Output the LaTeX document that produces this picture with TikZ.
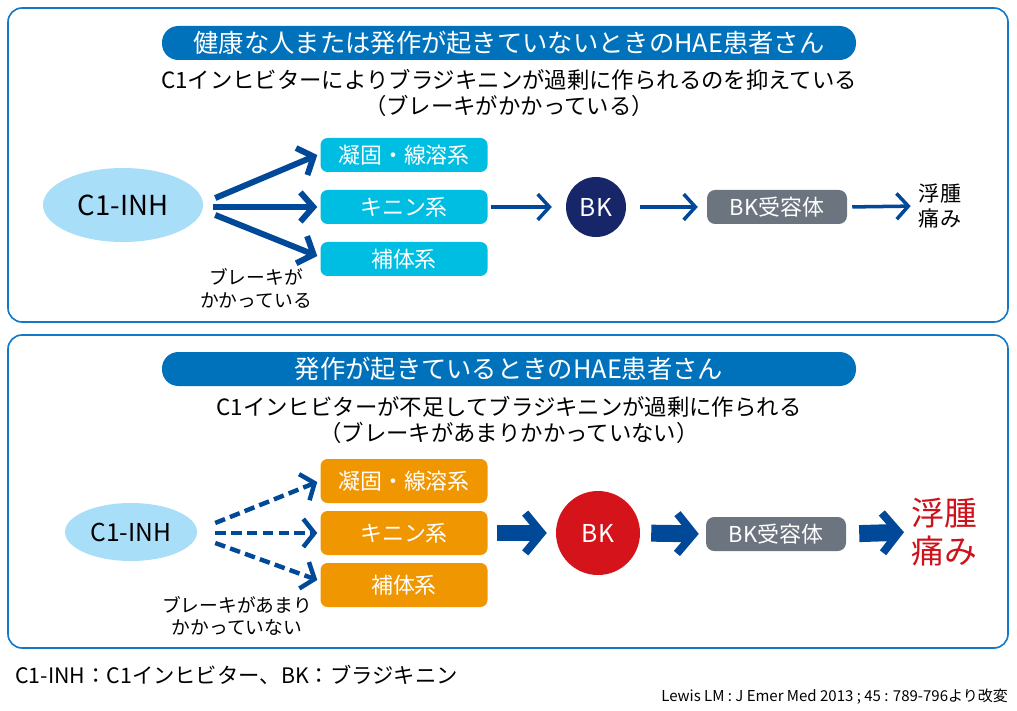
\documentclass[tikz,border=0pt]{standalone}
\usepackage{fontspec}
\setmainfont{Noto Sans CJK JP}
\usetikzlibrary{arrows.meta,shapes.geometric,calc}
\newlength\px
\setlength\px{0.03cm}
\definecolor{framebl}{RGB}{20,120,200}
\definecolor{barbl}{RGB}{0,114,188}
\definecolor{arrowbl}{RGB}{0,72,152}
\definecolor{ellbl}{RGB}{168,222,248}
\definecolor{cyanbox}{RGB}{0,190,225}
\definecolor{orgbox}{RGB}{240,150,0}
\definecolor{recgray}{RGB}{108,116,128}
\definecolor{bknavy}{RGB}{22,38,105}
\definecolor{bkred}{RGB}{212,20,26}
\definecolor{effred}{RGB}{205,18,28}
\begin{document}
\begin{tikzpicture}[x=0.03cm,y=-0.03cm,
	panel/.style={draw=framebl,line width=1.4pt,rounded corners=12pt},
	titlebar/.style={fill=barbl,text=white,rounded corners=14pt,minimum width=694\px,minimum height=34\px,inner sep=0pt,font=\fontsize{21.6}{25}\selectfont},
	subtext/.style={align=center,inner sep=0pt,font=\fontsize{19.1}{22}\selectfont},
	inh/.style={ellipse,fill=ellbl,inner sep=0pt},
	sysbox/.style={text=white,rounded corners=6pt,minimum width=167\px,inner sep=0pt,font=\fontsize{18.7}{22}\selectfont},
	bk/.style={circle,text=white,inner sep=0pt,font=\fontsize{21}{25}\selectfont},
	recbox/.style={fill=recgray,text=white,rounded corners=7pt,minimum width=140\px,minimum height=34\px,inner sep=0pt,font=\fontsize{18.7}{22}\selectfont},
	brake/.style={align=center,inner sep=0pt,font=\fontsize{16}{19.5}\selectfont},
	brakearrow/.style={arrowbl,line width=5.1pt,-{Straight Barb[length=11pt,width=25pt,line width=5.1pt]}},
	weakarrow/.style={arrowbl,line width=3.8pt,dash pattern=on 9pt off 4.5pt,-{Straight Barb[length=9.5pt,width=24pt,line width=3.8pt]}},
	thinarrow/.style={arrowbl,line width=3pt,-{Straight Barb[length=10pt,width=22pt,line width=3pt]}},
	fatarrow/.style={arrowbl,line width=14.5pt,-{Straight Barb[length=14pt,width=34pt,line width=6.8pt]}}]
\useasboundingbox (0,0) rectangle (1017,711);

% upper panel
\draw[panel] (8,8) rectangle (1008,322);
\node[titlebar] (title1) at (509,43) {健康な人または発作が起きていないときのHAE患者さん};
\node[subtext] (sub1) at (509,93) {C1インヒビターによりブラジキニンが過剰に作られるのを抑えている\\（ブレーキがかかっている）};

\node[inh,minimum width=160\px,minimum height=74\px,font=\fontsize{23.5}{28}\selectfont] (inh1) at (123,205) {C1-INH};
\node[sysbox,fill=cyanbox,minimum height=34\px] (coag1) at (404,155) {凝固・線溶系};
\node[sysbox,fill=cyanbox,minimum height=34\px] (kinin1) at (404,207) {キニン系};
\node[sysbox,fill=cyanbox,minimum height=34\px] (compl1) at (404,259) {補体系};
\node[bk,fill=bknavy,minimum size=60\px] (bk1) at (596,207) {BK};
\node[recbox] (rec1) at (777,207) {BK受容体};
\node[align=center,inner sep=0pt,font=\fontsize{18}{22}\selectfont] (eff1) at (940,206) {浮腫\\痛み};
\node[brake] (brake1) at (256,288) {ブレーキが\\かかっている};

\draw[brakearrow] ($(inh1.east)+(12,-7)$) -- ($(coag1.west)+(-3,0)$);
\draw[brakearrow] ($(inh1.east)+(10,2)$) -- ($(kinin1.west)+(-3,0)$);
\draw[brakearrow] ($(inh1.east)+(12,10)$) -- ($(compl1.west)+(-3,-3)$);
\draw[thinarrow,shorten <=3\px,shorten >=14\px] (kinin1.east) -- (bk1.west);
\draw[thinarrow,shorten <=14\px,shorten >=9\px] (bk1.east) -- (rec1.west);
\draw[thinarrow,shorten <=5\px,shorten >=8\px] (rec1.east) -- (eff1.west);

% lower panel
\draw[panel] (8,335) rectangle (1008,648);
\node[titlebar] (title2) at (509,369) {発作が起きているときのHAE患者さん};
\node[subtext] (sub2) at (509,420) {C1インヒビターが不足してブラジキニンが過剰に作られる\\（ブレーキがあまりかかっていない）};

\node[inh,minimum width=132\px,minimum height=58\px,font=\fontsize{21}{25}\selectfont] (inh2) at (131,532) {C1-INH};
\node[sysbox,fill=orgbox,minimum height=44\px] (coag2) at (404,481) {凝固・線溶系};
\node[sysbox,fill=orgbox,minimum height=44\px] (kinin2) at (404,533) {キニン系};
\node[sysbox,fill=orgbox,minimum height=44\px] (compl2) at (404,585) {補体系};
\node[bk,fill=bkred,minimum size=84\px] (bk2) at (598,533) {BK};
\node[recbox] (rec2) at (776,534) {BK受容体};
\node[align=center,inner sep=0pt,text=effred,font=\fontsize{28}{32}\selectfont] (eff2) at (944,532) {浮腫\\痛み};
\node[brake] (brake2) at (237,616) {ブレーキがあまり\\かかっていない};

\draw[weakarrow] ($(inh2.east)+(18,-9)$) -- ($(coag2.west)+(-3,1)$);
\draw[weakarrow] ($(inh2.east)+(18,1)$) -- ($(kinin2.west)+(-3,0)$);
\draw[weakarrow] ($(inh2.east)+(18,11)$) -- ($(compl2.west)+(-3,-5)$);
\draw[fatarrow,shorten <=9\px,shorten >=9\px] (kinin2.east) -- (bk2.west);
\draw[fatarrow,shorten <=11\px,shorten >=7\px] (bk2.east) -- (rec2.west);
\draw[fatarrow,shorten <=13\px,shorten >=7\px] (rec2.east) -- (eff2.west);

% notes
\node[anchor=west,inner sep=0pt,font=\fontsize{18.2}{21}\selectfont] (abbr) at (15,675) {C1-INH：C1インヒビター、BK：ブラジキニン};
\node[anchor=east,inner sep=0pt,font=\fontsize{12.8}{15}\selectfont] (cite) at (1008,697) {Lewis LM : J Emer Med 2013 ; 45 : 789-796より改変};
\end{tikzpicture}
\end{document}
